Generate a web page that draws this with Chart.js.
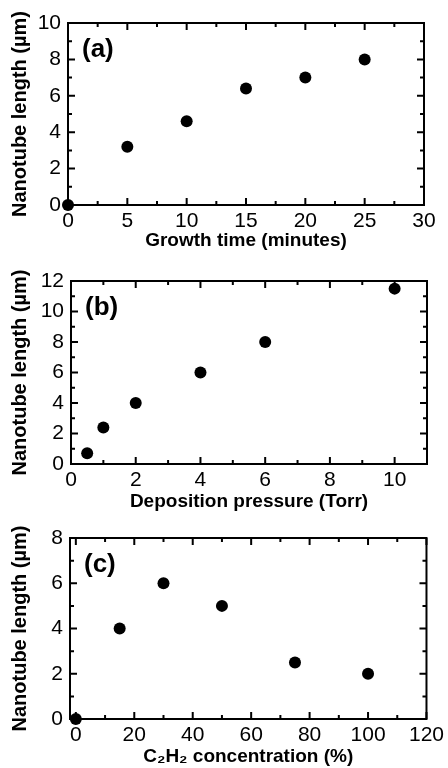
<!DOCTYPE html>
<html>
<head>
<meta charset="utf-8">
<script src="https://cdn.jsdelivr.net/npm/chart.js@4.4.1/dist/chart.umd.min.js"></script>
<style>
html, body { margin: 0; padding: 0; background: #fff; }
#wrap { position: relative; width: 448px; height: 768px; overflow: hidden; background: #fff; }
canvas { position: absolute; left: 0; }
</style>
</head>
<body>
<div id="wrap">
	<canvas id="chartA"></canvas>
	<canvas id="chartB"></canvas>
	<canvas id="chartC"></canvas>
</div>
<script>
"use strict";

// Data

// (a) length vs growth time
var GROWTH_TIME = [0, 5, 10, 15, 20, 25],
	LENGTH_VS_TIME = [0, 3.2, 4.6, 6.4, 7, 8],
	TIME_TICKS = [0, 5, 10, 15, 20, 25, 30],
	TIME_MINOR = [2.5, 7.5, 12.5, 17.5, 22.5, 27.5],
	LENGTH_A_TICKS = [0, 2, 4, 6, 8, 10],
	LENGTH_A_MINOR = [1, 3, 5, 7, 9];

// (b) length vs deposition pressure
var PRESSURE = [0.5, 1, 2, 4, 6, 10],
	LENGTH_VS_PRESSURE = [0.7, 2.4, 4, 6, 8, 11.5],
	PRESSURE_TICKS = [0, 2, 4, 6, 8, 10],
	PRESSURE_MINOR = [1, 3, 5, 7, 9, 11],
	LENGTH_B_TICKS = [0, 2, 4, 6, 8, 10, 12],
	LENGTH_B_MINOR = [1, 3, 5, 7, 9, 11];

// (c) length vs C2H2 concentration
var CONCENTRATION = [0, 15, 30, 50, 75, 100],
	LENGTH_VS_CONCENTRATION = [0, 4, 6, 5, 2.5, 2],
	CONCENTRATION_TICKS = [0, 20, 40, 60, 80, 100, 120],
	CONCENTRATION_MINOR = [10, 30, 50, 70, 90, 110],
	LENGTH_C_TICKS = [0, 2, 4, 6, 8],
	LENGTH_C_MINOR = [1, 3, 5, 7];

var Y_TITLE = "Nanotube length (\u00b5m)";

// Styles

var FAMILY = "'Liberation Sans', Arial, Helvetica, sans-serif",
	TICK_FONT = { family: FAMILY, size: 21 },
	TITLE_FONT = { family: FAMILY, size: 19, weight: "bold" },
	Y_TITLE_FONT = { family: FAMILY, size: 20, weight: "bold" },
	LETTER_FONT = "bold 26px " + FAMILY;

// Panels: canvas placement and plot box (local to each canvas)

var PANELS = [
	{
		id: "chartA", top: 0, height: 252, letter: "(a)",
		plot: { left: 68, right: 424, top: 23, bottom: 205 },
		x: GROWTH_TIME, y: LENGTH_VS_TIME,
		xMin: 0, xMax: 30, yMin: 0, yMax: 10,
		xTicks: TIME_TICKS, xMinor: TIME_MINOR,
		yTicks: LENGTH_A_TICKS, yMinor: LENGTH_A_MINOR,
		xTitle: "Growth time (minutes)"
	},
	{
		id: "chartB", top: 252, height: 261, letter: "(b)",
		plot: { left: 71, right: 427, top: 29, bottom: 212 },
		x: PRESSURE, y: LENGTH_VS_PRESSURE,
		xMin: 0, xMax: 11, yMin: 0, yMax: 12,
		xTicks: PRESSURE_TICKS, xMinor: PRESSURE_MINOR,
		yTicks: LENGTH_B_TICKS, yMinor: LENGTH_B_MINOR,
		xTitle: "Deposition pressure (Torr)"
	},
	{
		id: "chartC", top: 513, height: 255, letter: "(c)",
		plot: { left: 70, right: 427, top: 25, bottom: 206 },
		x: CONCENTRATION, y: LENGTH_VS_CONCENTRATION,
		xMin: -2, xMax: 120, yMin: 0, yMax: 8,
		xTicks: CONCENTRATION_TICKS, xMinor: CONCENTRATION_MINOR,
		yTicks: LENGTH_C_TICKS, yMinor: LENGTH_C_MINOR,
		xTitle: "C\u2082H\u2082 concentration (%)"
	}
];

var CANVAS_WIDTH = 448,
	MAJOR_LEN = 7,
	MINOR_LEN = 4;

// frame with inward ticks on all four sides, plus the panel letter
var framePlugin = {
	id: "frame",
	afterDraw: function (chart, args, opts) {
		var ctx = chart.ctx, area = chart.chartArea,
			xs = chart.scales.x, ys = chart.scales.y;

		ctx.save();
		ctx.strokeStyle = "#000";
		ctx.lineWidth = 2;
		ctx.strokeRect(area.left, area.top, area.right - area.left, area.bottom - area.top);
		ctx.beginPath();
		tickX(ctx, area, xs, opts.xTicks, MAJOR_LEN);
		tickX(ctx, area, xs, opts.xMinor, MINOR_LEN);
		tickY(ctx, area, ys, opts.yTicks, MAJOR_LEN);
		tickY(ctx, area, ys, opts.yMinor, MINOR_LEN);
		ctx.stroke();

		ctx.fillStyle = "#000";
		ctx.font = LETTER_FONT;
		ctx.textAlign = "left";
		ctx.textBaseline = "middle";
		ctx.fillText(opts.letter, area.left + 14, area.top + 27);
		ctx.restore();
	}
};

function tickX(ctx, area, scale, values, len) {
	for (var i in values) {
		var px = scale.getPixelForValue(values[i]);
		ctx.moveTo(px, area.bottom);
		ctx.lineTo(px, area.bottom - len);
		ctx.moveTo(px, area.top);
		ctx.lineTo(px, area.top + len);
	}
}

function tickY(ctx, area, scale, values, len) {
	for (var i in values) {
		var py = scale.getPixelForValue(values[i]);
		ctx.moveTo(area.left, py);
		ctx.lineTo(area.left + len, py);
		ctx.moveTo(area.right, py);
		ctx.lineTo(area.right - len, py);
	}
}

function toTicks(values) {
	return values.map(function (v) { return { value: v }; });
}

function buildChart(panel) {
	var canvas = document.getElementById(panel.id), points = [];

	canvas.width = CANVAS_WIDTH;
	canvas.height = panel.height;
	canvas.style.top = panel.top + "px";
	for (var i in panel.x) {
		points.push({ x: panel.x[i], y: panel.y[i] });
	}

	return new Chart(canvas, {
		type: "scatter",
		data: {
			datasets: [{
				data: points,
				pointRadius: 6,
				pointHoverRadius: 6,
				pointBackgroundColor: "#000",
				pointBorderColor: "#000",
				pointBorderWidth: 0,
				clip: false
			}]
		},
		options: {
			responsive: false,
			animation: false,
			devicePixelRatio: 1,
			events: [],
			layout: {
				padding: {
					left: 0,
					top: panel.plot.top,
					right: CANVAS_WIDTH - panel.plot.right,
					bottom: 0
				}
			},
			plugins: {
				legend: { display: false },
				tooltip: { enabled: false },
				frame: {
					letter: panel.letter,
					xTicks: panel.xTicks, xMinor: panel.xMinor,
					yTicks: panel.yTicks, yMinor: panel.yMinor
				}
			},
			scales: {
				x: {
					type: "linear",
					min: panel.xMin,
					max: panel.xMax,
					grid: { display: false, drawTicks: false },
					border: { display: false },
					ticks: { color: "#000", font: TICK_FONT, padding: 4, maxRotation: 0, autoSkip: false },
					afterBuildTicks: function (scale) { scale.ticks = toTicks(panel.xTicks); },
					afterFit: function (scale) { scale.height = panel.height - panel.plot.bottom; },
					title: { display: true, text: panel.xTitle, color: "#000", font: TITLE_FONT, padding: 0 }
				},
				y: {
					type: "linear",
					min: panel.yMin,
					max: panel.yMax,
					grid: { display: false, drawTicks: false },
					border: { display: false },
					ticks: { color: "#000", font: TICK_FONT, padding: 7, autoSkip: false },
					afterBuildTicks: function (scale) { scale.ticks = toTicks(panel.yTicks); },
					afterFit: function (scale) { scale.width = panel.plot.left; },
					title: { display: true, text: Y_TITLE, color: "#000", font: Y_TITLE_FONT, padding: { top: 8, bottom: 0 } }
				}
			}
		},
		plugins: [framePlugin]
	});
}

PANELS.forEach(buildChart);
</script>
</body>
</html>
